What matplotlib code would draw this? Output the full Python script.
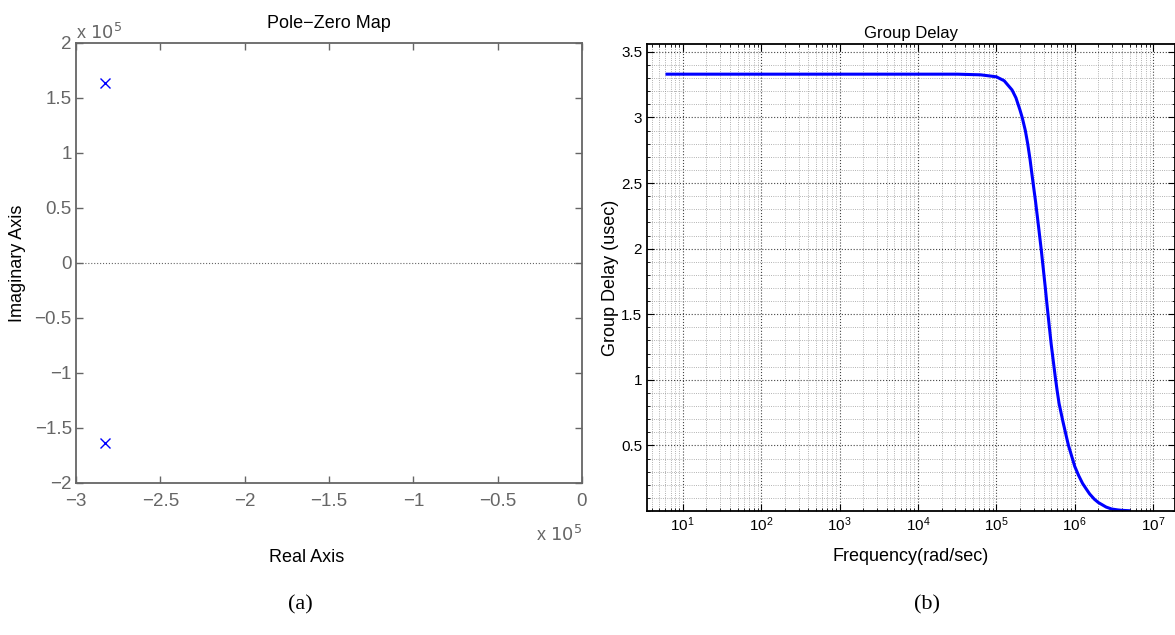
import matplotlib
matplotlib.use('Agg')
import matplotlib.pyplot as plt
from matplotlib.ticker import FuncFormatter, LogLocator, MultipleLocator, NullFormatter
import numpy as np

# pole locations
pole_re = [-2.83e5, -2.83e5]
pole_im = [1.636e5, -1.636e5]

# group delay curve: log10(w) and delay in usec
log_w = [0.80, 2.0, 3.0, 4.0, 4.5, 4.8, 5.0, 5.1, 5.2, 5.25, 5.3, 5.33, 5.37, 5.4, 5.43,
         5.46, 5.5, 5.54, 5.575, 5.6, 5.625, 5.65, 5.675, 5.7, 5.725, 5.75, 5.775, 5.8,
         5.85, 5.9, 5.92, 5.96, 6.0, 6.05, 6.1, 6.15, 6.19, 6.25, 6.3, 6.4, 6.47, 6.55,
         6.6, 6.69]
delay = [3.33, 3.33, 3.33, 3.33, 3.33, 3.325, 3.31, 3.28, 3.21, 3.15, 3.06, 3.0, 2.90,
         2.80, 2.68, 2.54, 2.36, 2.16, 1.98, 1.84, 1.70, 1.55, 1.41, 1.27, 1.15, 1.03,
         0.92, 0.82, 0.68, 0.55, 0.50, 0.42, 0.34, 0.27, 0.21, 0.165, 0.13, 0.09, 0.065,
         0.03, 0.015, 0.008, 0.005, 0.002]

grey = '#666666'
sans = ['Liberation Sans', 'DejaVu Sans']
plt.rcParams['font.family'] = sans

fig = plt.figure(figsize=(11.75, 6.35), dpi=100)

# ---- (a) pole-zero map
ax1 = fig.add_axes([0.0647, 0.2394, 0.4306, 0.6929])
ax1.plot(pole_re, pole_im, 'x', color='blue', markersize=7, markeredgewidth=1)
ax1.axhline(0, color=grey, linestyle=':', linewidth=0.8)
ax1.set_xlim(-3e5, 0)
ax1.set_ylim(-2e5, 2e5)
ax1.xaxis.set_major_locator(MultipleLocator(0.5e5))
ax1.yaxis.set_major_locator(MultipleLocator(0.5e5))

def scaled(v, pos):
    s = ('%g' % (v / 1e5)).replace('-', '\u2212')
    return s

ax1.xaxis.set_major_formatter(FuncFormatter(scaled))
ax1.yaxis.set_major_formatter(FuncFormatter(scaled))
ax1.tick_params(direction='in', top=True, right=True, length=5, width=1,
                colors=grey, labelsize=13.5)
ax1.tick_params(axis='x', pad=7)
ax1.tick_params(axis='y', pad=3)
for sp in ax1.spines.values():
    sp.set_color(grey)
    sp.set_linewidth(1.3)
ax1.set_title('Pole\u2212Zero Map', fontsize=13, pad=11)
ax1.set_ylabel('Imaginary Axis', fontsize=13, labelpad=6)
ax1.set_xlabel('Real Axis', fontsize=13)
ax1.xaxis.set_label_coords(0.455, -0.17, transform=ax1.transAxes)
ax1.xaxis.label.set_va('center')
ax1.text(0.0, 1.0, r'x $10^5$', transform=ax1.transAxes, color=grey,
         fontsize=13, ha='left', va='bottom')
ax1.text(1.0, -0.095, r'x $10^5$', transform=ax1.transAxes, color=grey,
         fontsize=13, ha='right', va='top')

# ---- (b) group delay
ax2 = fig.add_axes([0.5506, 0.1953, 0.4494, 0.7354])
w = np.power(10.0, log_w)
ax2.semilogx(w, delay, color='blue', linewidth=2.2)
ax2.set_xlim(3.5, 1.9e7)
ax2.set_ylim(0.0, 3.56)
ax2.xaxis.set_major_locator(LogLocator(base=10, numticks=20))
ax2.xaxis.set_minor_locator(LogLocator(base=10, subs=np.arange(2, 10), numticks=20))
ax2.xaxis.set_minor_formatter(NullFormatter())
ax2.yaxis.set_minor_locator(MultipleLocator(0.1))
ax2.set_yticks([0.5, 1, 1.5, 2, 2.5, 3, 3.5])
ax2.yaxis.set_major_formatter(FuncFormatter(lambda v, p: '%g' % v))
ax2.grid(True, which='major', linestyle=':', color='#444444', linewidth=0.8)
ax2.grid(True, which='minor', linestyle=':', color='#999999', linewidth=0.6)
ax2.tick_params(which='both', direction='in', top=True, right=True, colors='black', labelsize=11)
ax2.tick_params(which='major', length=5)
ax2.tick_params(which='minor', length=2.5)
for sp in ax2.spines.values():
    sp.set_linewidth(1.3)
ax2.set_title('Group Delay', fontsize=12, pad=4)
ax2.set_ylabel('Group Delay (usec)', fontsize=13, labelpad=1.5)
ax2.set_xlabel('Frequency(rad/sec)', fontsize=13, labelpad=10)

# captions
serif = ['Liberation Serif', 'DejaVu Serif']
fig.text(300 / 1175, 1 - 605 / 635, '(a)', family=serif, fontsize=16, ha='center', va='center')
fig.text(927 / 1175, 1 - 605 / 635, '(b)', family=serif, fontsize=16, ha='center', va='center')

fig.savefig('out.png', dpi=100)
